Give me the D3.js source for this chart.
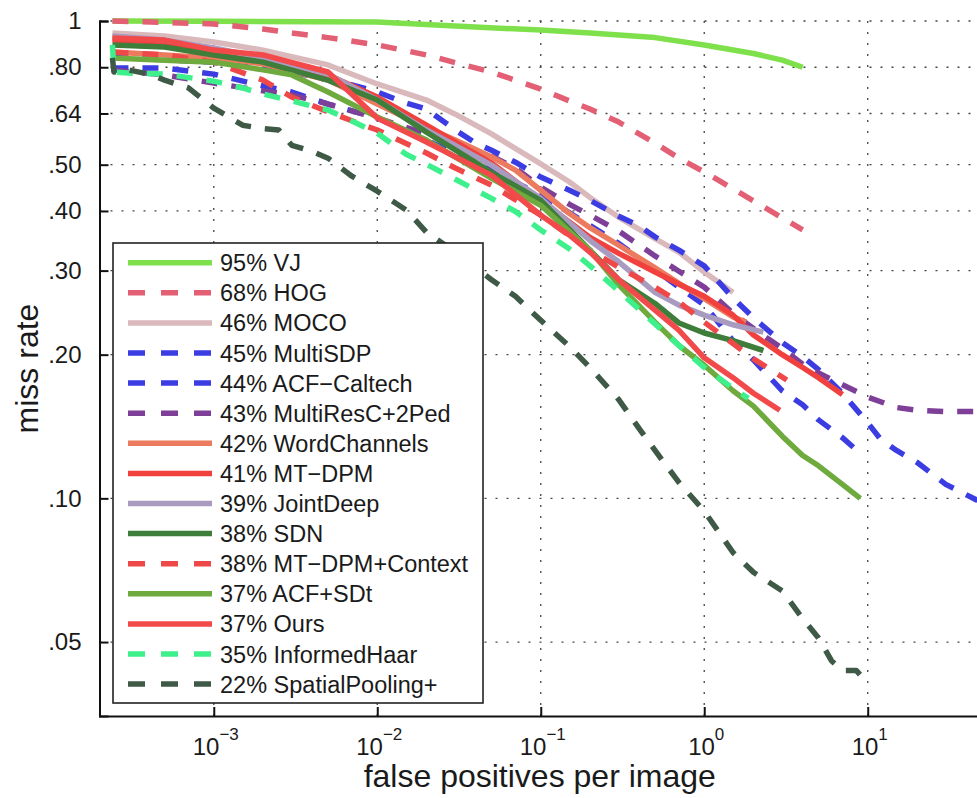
<!DOCTYPE html>
<html>
<head>
<meta charset="utf-8">
<script src="https://cdn.jsdelivr.net/npm/d3@7"></script>
<style>
  html, body { margin: 0; padding: 0; background: #fff; }
  svg { display: block; font-family: "Liberation Sans", Arial, Helvetica, sans-serif; }
</style>
</head>
<body>
<svg id="chart" width="977" height="798"></svg>
<script>
// ---------------- DATA ----------------
const seriesNames = ["VJ", "HOG", "MOCO", "MultiSDP", "ACF\u2212Caltech", "MultiResC+2Ped",
  "WordChannels", "MT\u2212DPM", "JointDeep", "SDN", "MT\u2212DPM+Context", "ACF+SDt",
  "Ours", "InformedHaar", "SpatialPooling+"];
const seriesScores = [95, 68, 46, 45, 44, 43, 42, 41, 39, 38, 38, 37, 37, 35, 22];
const seriesColors = ["#7ee04a", "#e35f73", "#d9b9bb", "#3b3de2", "#3b3de2", "#7d3f98",
  "#ec7a5e", "#f0413e", "#a99bc0", "#3f7d3a", "#ef4848", "#6faa3f",
  "#f2494a", "#3ef08c", "#3e5a47"];
const seriesDashed = [false, true, false, true, true, true,
  false, false, false, false, true, false,
  false, true, true];

// [false positives per image, miss rate]
const curveVJ = [[2.4e-4,1.0],[1e-3,0.999],[1e-2,0.995],[3e-2,0.976],[0.1,0.957],[0.2,0.944],[0.5,0.923],[1,0.891],[2,0.855],[3,0.828],[4,0.80]];
const curveHOG = [[2.4e-4,1.0],[5e-4,0.993],[1e-3,0.986],[2e-3,0.962],[3e-3,0.944],[5e-3,0.923],[1e-2,0.891],[2e-2,0.849],[3e-2,0.818],[5e-2,0.782],[0.1,0.720],[0.15,0.680],[0.2,0.654],[0.3,0.614],[0.5,0.555],[0.7,0.516],[1,0.483],[1.5,0.445],[2,0.420],[3,0.387],[4,0.365]];
const curveMOCO = [[2.4e-4,0.944],[5e-4,0.930],[1e-3,0.904],[2e-3,0.869],[5e-3,0.809],[1e-2,0.738],[2e-2,0.683],[3e-2,0.638],[5e-2,0.580],[0.1,0.502],[0.15,0.460],[0.2,0.427],[0.3,0.388],[0.5,0.350],[0.7,0.328],[1,0.298],[1.5,0.270]];
const curveMultiSDP = [[2.4e-4,0.84],[1e-3,0.82],[3e-3,0.782],[7e-3,0.735],[1e-2,0.710],[1.5e-2,0.673],[2e-2,0.654],[3e-2,0.591],[4e-2,0.555],[5e-2,0.536],[7e-2,0.506],[0.1,0.471],[0.15,0.442],[0.2,0.421],[0.3,0.390],[0.4,0.372],[0.5,0.353],[0.7,0.331],[1,0.307],[1.5,0.263],[2,0.239],[3,0.212],[4,0.198],[5,0.186],[7,0.166],[10,0.144],[12,0.133],[15,0.126],[20,0.119],[30,0.107],[47,0.099]];
const curveACFCaltech = [[2.4e-4,0.797],[5e-4,0.797],[1e-3,0.774],[2e-3,0.731],[3e-3,0.710],[5e-3,0.670],[1e-2,0.626],[2e-2,0.563],[5e-2,0.487],[0.1,0.432],[0.2,0.373],[0.3,0.342],[0.5,0.301],[0.7,0.277],[1,0.254],[1.5,0.214],[2,0.195],[3,0.168],[4,0.157],[5,0.146],[7,0.134],[8.6,0.126]];
const curveMultiResC = [[2.4e-4,0.790],[5e-4,0.771],[1e-3,0.741],[2e-3,0.714],[3e-3,0.700],[5e-3,0.670],[1e-2,0.626],[2e-2,0.580],[3e-2,0.549],[5e-2,0.521],[7e-2,0.492],[0.1,0.449],[0.15,0.413],[0.2,0.392],[0.3,0.363],[0.5,0.322],[0.7,0.299],[1,0.277],[1.5,0.244],[2,0.227],[3,0.206],[4,0.191],[5,0.183],[7,0.173],[10,0.163],[15,0.155],[20,0.153],[30,0.152],[47,0.152]];
const curveWordChannels = [[2.4e-4,0.861],[5e-4,0.849],[1e-3,0.837],[2e-3,0.813],[5e-3,0.752],[1e-2,0.670],[2e-2,0.598],[3e-2,0.563],[5e-2,0.519],[7e-2,0.487],[0.1,0.442],[0.15,0.395],[0.2,0.369],[0.3,0.339],[0.5,0.304],[0.7,0.282],[1,0.262],[1.5,0.240],[1.8,0.234]];
const curveMTDPM = [[2.4e-4,0.912],[5e-4,0.904],[1e-3,0.869],[2e-3,0.837],[5e-3,0.771],[1e-2,0.693],[2e-2,0.605],[5e-2,0.504],[0.1,0.421],[0.2,0.352],[0.3,0.326],[0.5,0.298],[0.7,0.281],[1,0.265],[1.5,0.242],[2,0.220],[3,0.200],[4,0.188],[5,0.179],[7,0.165]];
const curveJointDeep = [[2.4e-4,0.930],[5e-4,0.912],[1e-3,0.878],[2e-3,0.837],[5e-3,0.774],[1e-2,0.683],[2e-2,0.591],[5e-2,0.499],[0.1,0.425],[0.2,0.347],[0.3,0.313],[0.5,0.270],[0.7,0.254],[1,0.242],[1.5,0.231],[2.3,0.223]];
const curveSDN = [[2.4e-4,0.891],[5e-4,0.882],[1e-3,0.849],[2e-3,0.820],[5e-3,0.752],[1e-2,0.683],[2e-2,0.585],[5e-2,0.482],[0.1,0.421],[0.2,0.331],[0.3,0.287],[0.5,0.256],[0.7,0.233],[1,0.222],[1.5,0.214],[2.3,0.204]];
const curveMTDPMContext = [[2.4e-4,0.861],[5e-4,0.849],[1e-3,0.820],[2e-3,0.752],[3e-3,0.693],[5e-3,0.645],[1e-2,0.591],[2e-2,0.529],[3e-2,0.492],[5e-2,0.453],[0.1,0.392],[0.2,0.331],[0.3,0.305],[0.5,0.277],[0.7,0.258],[1,0.234],[1.5,0.211],[2,0.196],[3.2,0.177]];
const curveACFSDt = [[2.4e-4,0.837],[5e-4,0.828],[1e-3,0.820],[2e-3,0.790],[3e-3,0.771],[5e-3,0.710],[1e-2,0.629],[2e-2,0.563],[5e-2,0.468],[0.1,0.411],[0.2,0.331],[0.3,0.280],[0.5,0.234],[0.7,0.209],[1,0.190],[1.5,0.168],[2,0.156],[3,0.135],[4,0.123],[5,0.117],[7,0.107],[9,0.100]];
const curveOurs = [[2.4e-4,0.921],[5e-4,0.912],[1e-3,0.869],[2e-3,0.849],[5e-3,0.782],[1e-2,0.626],[2e-2,0.558],[5e-2,0.475],[0.1,0.392],[0.15,0.356],[0.2,0.328],[0.3,0.287],[0.5,0.248],[0.7,0.225],[1,0.197],[1.5,0.179],[2,0.166],[2.9,0.153]];
const curveInformedHaar = [[2.4e-4,0.891],[2.45e-4,0.782],[3e-4,0.778],[5e-4,0.774],[1e-3,0.748],[1.5e-3,0.724],[2e-3,0.703],[3e-3,0.680],[5e-3,0.651],[7e-3,0.617],[1e-2,0.582],[1.5e-2,0.526],[2e-2,0.501],[3e-2,0.466],[5e-2,0.425],[7e-2,0.399],[0.1,0.365],[0.15,0.333],[0.2,0.307],[0.3,0.272],[0.5,0.232],[0.7,0.209],[1,0.188],[1.5,0.170],[1.86,0.162]];
const curveSpatialPooling = [[2.4e-4,0.837],[2.45e-4,0.782],[3e-4,0.790],[4e-4,0.774],[5e-4,0.752],[7e-4,0.724],[1e-3,0.657],[1.5e-3,0.605],[2e-3,0.595],[2.5e-3,0.591],[3e-3,0.549],[4e-3,0.533],[5e-3,0.516],[7e-3,0.473],[1e-2,0.440],[1.5e-2,0.402],[2e-2,0.361],[3e-2,0.328],[5e-2,0.287],[7e-2,0.265],[0.1,0.236],[0.15,0.208],[0.2,0.188],[0.3,0.161],[0.4,0.140],[0.5,0.126],[0.7,0.108],[1,0.094],[1.5,0.077],[2,0.070],[3,0.064],[4,0.056],[5,0.051],[6,0.0457],[7,0.0436],[8.5,0.0436],[10,0.0410]];

const seriesCurves = [curveVJ, curveHOG, curveMOCO, curveMultiSDP, curveACFCaltech, curveMultiResC,
  curveWordChannels, curveMTDPM, curveJointDeep, curveSDN, curveMTDPMContext, curveACFSDt,
  curveOurs, curveInformedHaar, curveSpatialPooling];

const yTickValues = [0.05, 0.10, 0.20, 0.30, 0.40, 0.50, 0.64, 0.80, 1];
const yTickLabels = [".05", ".10", ".20", ".30", ".40", ".50", ".64", ".80", "1"];
const xTickExponents = [-3, -2, -1, 0, 1];
const xDomain = [2e-4, 50];
const yDomain = [0.035, 1];
const xAxisTitle = "false positives per image";
const yAxisTitle = "miss rate";

// ---------------- CHART ----------------
const svg = d3.select("#chart");
const plot = { left: 99.5, right: 982, top: 21, bottom: 716 };

const x = d3.scaleLog().domain(xDomain).range([plot.left, plot.right]);
const y = d3.scaleLog().domain(yDomain).range([plot.bottom, plot.top]);

svg.append("defs").append("clipPath").attr("id", "clip")
  .append("rect").attr("x", plot.left).attr("y", plot.top - 4)
  .attr("width", plot.right - plot.left).attr("height", plot.bottom - plot.top + 4);

// grid
const grid = svg.append("g").attr("stroke", "#444").attr("stroke-width", 1.3)
  .attr("stroke-dasharray", "2,9").attr("fill", "none");
xTickExponents.forEach(e => {
  const xv = x(Math.pow(10, e));
  grid.append("line").attr("x1", xv).attr("x2", xv).attr("y1", plot.top).attr("y2", plot.bottom);
});
yTickValues.forEach(v => {
  const yv = y(v);
  grid.append("line").attr("x1", plot.left).attr("x2", plot.right).attr("y1", yv).attr("y2", yv);
});

// axes (Matlab-like: ticks inside)
const yAxis = d3.axisLeft(y).tickValues(yTickValues).tickSize(-9).tickPadding(18)
  .tickFormat((d, i) => yTickLabels[i]);
const gy = svg.append("g").attr("transform", `translate(${plot.left},0)`).call(yAxis);
gy.select(".domain").attr("stroke", "#111").attr("stroke-width", 2);
gy.selectAll(".tick line").attr("stroke", "#111").attr("stroke-width", 2);
gy.selectAll(".tick text").attr("font-size", 24).attr("fill", "#1a1a1a")
  .attr("font-family", "'Liberation Sans', Arial, sans-serif");

const xAxis = d3.axisBottom(x).tickValues(xTickExponents.map(e => Math.pow(10, e)))
  .tickSize(-9).tickFormat("");
const gx = svg.append("g").attr("transform", `translate(0,${plot.bottom})`).call(xAxis);
gx.select(".domain").attr("stroke", "#111").attr("stroke-width", 2);
gx.selectAll(".tick line").attr("stroke", "#111").attr("stroke-width", 2);

// x tick labels 10^e
xTickExponents.forEach(e => {
  const t = svg.append("text").attr("x", x(Math.pow(10, e)) + 2).attr("y", 755)
    .attr("text-anchor", "middle").attr("fill", "#1a1a1a").attr("font-size", 24);
  t.append("tspan").text("10");
  t.append("tspan").attr("dy", -15).attr("font-size", 17).text(e < 0 ? "\u2212" + Math.abs(e) : String(e));
});

// axis titles
svg.append("text").attr("x", (plot.left + plot.right) / 2 - 1).attr("y", 787)
  .attr("text-anchor", "middle").attr("font-size", 32).attr("fill", "#1a1a1a").text(xAxisTitle);
svg.append("text").attr("transform", `translate(38,${(plot.top + plot.bottom) / 2}) rotate(-90)`)
  .attr("text-anchor", "middle").attr("font-size", 32).attr("fill", "#1a1a1a").text(yAxisTitle);

// curves
const line = d3.line().x(d => x(d[0])).y(d => y(d[1]));
const curvesG = svg.append("g").attr("clip-path", "url(#clip)");
seriesCurves.forEach((c, i) => {
  curvesG.append("path").datum(c).attr("d", line)
    .attr("fill", "none").attr("stroke", seriesColors[i]).attr("stroke-width", 5.5)
    .attr("stroke-linejoin", "round")
    .attr("stroke-dasharray", seriesDashed[i] ? "16,14" : null);
});

// legend
const lg = { x: 113, y: 243, w: 370, h: 460, row0: 262.7, step: 30.1 };
svg.append("rect").attr("x", lg.x).attr("y", lg.y).attr("width", lg.w).attr("height", lg.h)
  .attr("fill", "#fff").attr("stroke", "#222").attr("stroke-width", 1.6);
seriesNames.forEach((name, i) => {
  const yy = lg.row0 + i * lg.step;
  svg.append("line").attr("x1", 128).attr("x2", 212).attr("y1", yy).attr("y2", yy)
    .attr("stroke", seriesColors[i]).attr("stroke-width", 5.5)
    .attr("stroke-dasharray", seriesDashed[i] ? "17,16" : null);
  svg.append("text").attr("x", 220).attr("y", yy + 8.5).attr("font-size", 23.5)
    .attr("fill", "#1a1a1a").text(seriesScores[i] + "% " + name);
});
</script>
</body>
</html>
